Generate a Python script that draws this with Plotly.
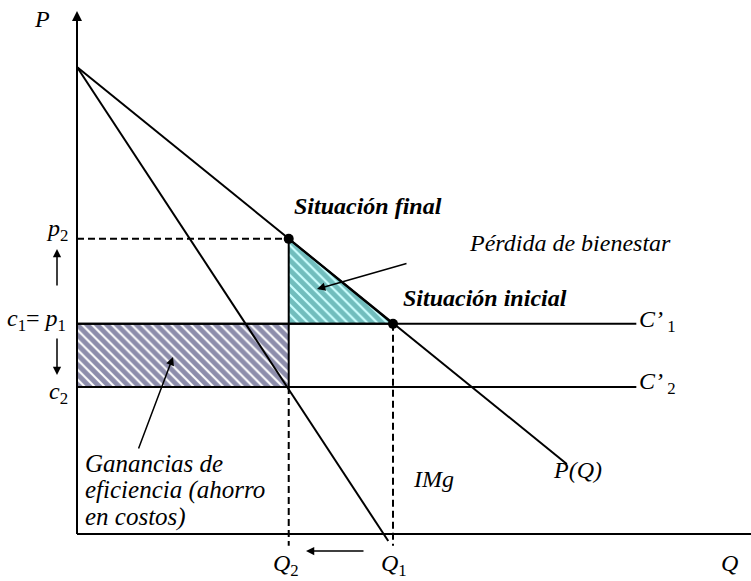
import plotly.graph_objects as go

# ---------------- data (economic units) ----------------
demand_Q = [0, 155]
demand_P = [100, 15]
img_Q = [0, 98.5]
img_P = [100, -1.5]
Q1, Q2 = 100, 67
p1, p2, c2 = 45, 63.2, 31.5
cost_line_end = 177
axis_top = 112
dash_bottom = -2.5

# ---------------- layout scale ----------------
W, H = 751, 581
X0, Y0 = 77, 534
SX, SY = 3.16, 4.67
x_range = [-X0 / SX, (W - X0) / SX]
y_range = [-(H - Y0) / SY, Y0 / SY]

def px(x):
    return x / W

def py(y):
    return 1 - y / H

FONT = "Liberation Serif, Times New Roman, serif"
fig = go.Figure()

# hatched rectangle: efficiency gains
fig.add_trace(go.Scatter(
    x=[0, Q2, Q2, 0, 0], y=[c2, c2, p1, p1, c2], mode="lines",
    fill="toself", fillcolor="white",
    fillpattern=dict(shape="\\", fgcolor="#1c1c58", bgcolor="white", size=7, solidity=0.72),
    line=dict(color="black", width=2), hoverinfo="skip"))

# hatched triangle: deadweight loss
fig.add_trace(go.Scatter(
    x=[Q2, Q2, Q1, Q2], y=[p2, p1, p1, p2], mode="lines",
    fill="toself", fillcolor="#ccffff",
    fillpattern=dict(shape="\\", fgcolor="#157b7b", bgcolor="#ccffff", size=7, solidity=0.7),
    line=dict(color="black", width=2), hoverinfo="skip"))

# cost lines
for c in (p1, c2):
    fig.add_trace(go.Scatter(x=[0, cost_line_end], y=[c, c], mode="lines",
                             line=dict(color="black", width=2), hoverinfo="skip"))

# dashed guides
dash = "7px,4px"
fig.add_trace(go.Scatter(x=[0, Q2], y=[p2, p2], mode="lines",
                         line=dict(color="black", width=2, dash=dash), hoverinfo="skip"))
fig.add_trace(go.Scatter(x=[Q2, Q2], y=[c2, dash_bottom], mode="lines",
                         line=dict(color="black", width=2, dash=dash), hoverinfo="skip"))
fig.add_trace(go.Scatter(x=[Q1, Q1], y=[p1, dash_bottom], mode="lines",
                         line=dict(color="black", width=2, dash=dash), hoverinfo="skip"))

# demand and marginal revenue
fig.add_trace(go.Scatter(x=demand_Q, y=demand_P, mode="lines",
                         line=dict(color="black", width=2), hoverinfo="skip"))
fig.add_trace(go.Scatter(x=img_Q, y=img_P, mode="lines",
                         line=dict(color="black", width=2), hoverinfo="skip"))

# axes
fig.add_trace(go.Scatter(x=[0, x_range[1]], y=[0, 0], mode="lines",
                         line=dict(color="black", width=2), hoverinfo="skip"))
fig.add_trace(go.Scatter(x=[0, 0], y=[0, axis_top - 2], mode="lines",
                         line=dict(color="black", width=2), hoverinfo="skip"))

# equilibrium points
fig.add_trace(go.Scatter(x=[Q2, Q1], y=[p2, p1], mode="markers",
                         marker=dict(color="black", size=10), hoverinfo="skip"))

ann = []

def label(text, x, y, size=24, xanchor="center", yanchor="middle", align="left"):
    ann.append(dict(text=text, x=px(x), y=py(y), xref="paper", yref="paper",
                    showarrow=False, xanchor=xanchor, yanchor=yanchor, align=align,
                    font=dict(family=FONT, size=size, color="black")))

def arrow(hx, hy, tx, ty, head=2, width=1.5, size=1.1):
    ann.append(dict(text="", x=px(hx), y=py(hy), xref="paper", yref="paper",
                    ax=tx - hx, ay=ty - hy, axref="pixel", ayref="pixel",
                    showarrow=True, arrowhead=head, arrowwidth=width, arrowsize=size,
                    arrowcolor="black", standoff=0))

# y axis arrow head
ann.append(dict(text="", x=0, y=axis_top, xref="x", yref="y", ax=0, ay=20,
                showarrow=True, arrowhead=2, arrowwidth=2, arrowsize=1,
                arrowcolor="black", standoff=0))

label("<i>P</i>", 42, 19, size=24)
label("<i>p</i><sub>2</sub>", 70, 230, xanchor="right")
label("<i>c</i><sub>1</sub>= <i>p</i><sub>1</sub>", 68, 320, xanchor="right")
label("<i>c</i><sub>2</sub>", 70, 393, xanchor="right")
label("<i>C’</i><sub> 1</sub>", 637, 321, xanchor="left")
label("<i>C’</i><sub> 2</sub>", 637, 383, xanchor="left")
label("<i>Q</i><sub>2</sub>", 286, 565)
label("<i>Q</i><sub>1</sub>", 394, 565)
label("<i>Q</i>", 729, 563)
label("<b><i>Situación final</i></b>", 368, 206)
label("<i>Pérdida de bienestar</i>", 570, 243)
label("<b><i>Situación inicial</i></b>", 485, 298)
label("<i>P(Q)</i>", 577, 470)
label("<i>IMg</i>", 411, 479, xanchor="left")
label("<i>Ganancias de</i>", 83, 463, size=25, xanchor="left")
label("<i>eficiencia (ahorro</i>", 83, 490, size=25, xanchor="left")
label("<i>en costos)</i>", 83, 517, size=25, xanchor="left")

arrow(57, 249, 57, 287)
arrow(57, 375, 57, 337)
arrow(306, 551, 365, 551)
arrow(317, 289, 408, 263)
arrow(173, 357, 138, 450)

fig.update_layout(
    width=W, height=H, margin=dict(l=0, r=0, t=0, b=0),
    paper_bgcolor="white", plot_bgcolor="white", showlegend=False,
    xaxis=dict(range=x_range, visible=False, fixedrange=True),
    yaxis=dict(range=y_range, visible=False, fixedrange=True),
    annotations=ann,
)

fig.write_html(
    "out.html",
    config={"displayModeBar": False},
    post_script="document.body.style.margin='0px';document.body.style.overflow='hidden';",
)
